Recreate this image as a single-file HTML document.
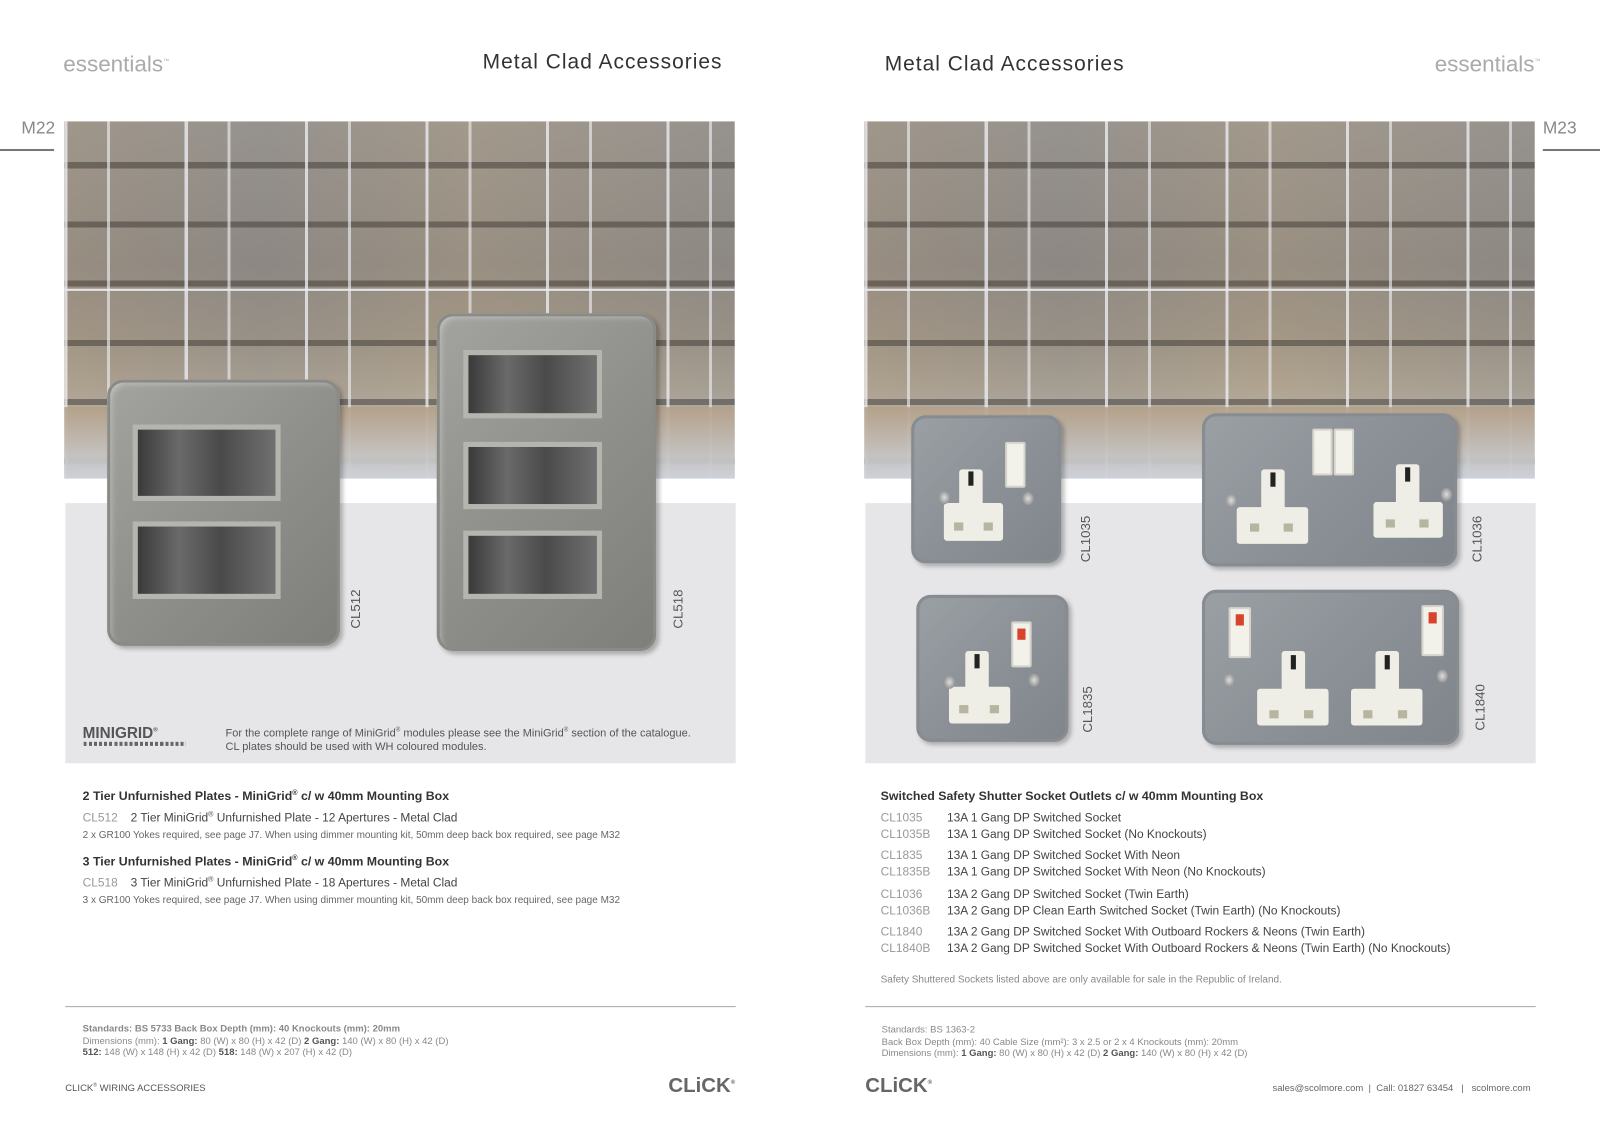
<!DOCTYPE html>
<html><head><meta charset="utf-8">
<style>
*{margin:0;padding:0;box-sizing:border-box}
body{width:1600px;height:1135px;background:#fff;position:relative;font-family:"Liberation Sans",sans-serif;overflow:hidden;color:#333}
#w{position:absolute;left:0;top:0;width:1568px;height:1112px;transform:scale(1.02041);transform-origin:0 0}
.a{position:absolute}
.photo{position:absolute;top:119px;width:657px;height:350px;overflow:hidden;
background:
repeating-linear-gradient(90deg,rgba(235,235,240,.8) 0 3px,transparent 3px 42px,rgba(235,235,240,.65) 42px 45px,transparent 45px 118px),
repeating-linear-gradient(180deg,transparent 0 40px,rgba(60,55,50,.5) 40px 46px,transparent 46px 58px),
linear-gradient(90deg,rgba(160,140,115,.25),rgba(110,115,125,.2) 30%,rgba(170,150,120,.25) 60%,rgba(110,115,125,.2)),
linear-gradient(180deg,#a09a92 0%,#948d85 40%,#a3998a 62%,#b3a999 75%,#c3c6cc 90%,#cfd3d9 100%);}
.photo .floor{position:absolute;left:0;right:0;bottom:0;height:70px;background:linear-gradient(180deg,rgba(180,160,135,.9),rgba(205,210,218,.95))}
.photo .hl{position:absolute;left:0;right:0;top:164px;height:2px;background:#e8e8ea}
.gray{position:absolute;top:493px;width:657px;height:255px;background:#e6e6e8}
.metal{position:absolute;background:linear-gradient(135deg,#a3a39f,#8f8f8b 50%,#7e7e7a);border-radius:16px;box-shadow:inset 0 0 0 3px #8a8a86,inset 4px 4px 6px rgba(255,255,255,.35),3px 3px 4px rgba(0,0,0,.25)}
.ap{position:absolute;background:linear-gradient(90deg,#3a3a3a,#6a6a6a 30%,#4a4a4a 60%,#707070);border:5px solid #b6b4ae}
.smetal{position:absolute;background:linear-gradient(135deg,#9aa0a4,#8b9196 50%,#7f858a);border-radius:14px;box-shadow:inset 0 0 0 3px #868c91,3px 3px 4px rgba(0,0,0,.25)}
.wu{position:absolute;background:#efeee6;border-radius:3px}
.pin{position:absolute;background:#222;width:5px;height:14px}
.sq{position:absolute;background:#b7b49f;width:9px;height:8px}
.sw{position:absolute;background:#f2f1ea;border:2px solid #d5d4cc;border-radius:2px}
.neon{position:absolute;background:#d8432c;width:8px;height:11px}
.scr{position:absolute;width:11px;height:13px;border-radius:50%;background:radial-gradient(#ddd,#777)}
.lbl{position:absolute;font-size:13px;color:#555;transform:rotate(-90deg);transform-origin:left top;white-space:nowrap}
.h{font-size:12.1px;font-weight:bold;color:#333}
.row{font-size:11.7px;color:#444;position:absolute;white-space:nowrap}
.row span{color:#999;display:inline-block}
.small{font-size:9.8px;color:#666;position:absolute;white-space:nowrap}
.std{font-size:9.3px;color:#888;line-height:11.5px;position:absolute;white-space:nowrap}
.std b{color:#555}
</style></head><body><div id="w">

<div class="a" style="left:62px;top:50px;font-size:22px;color:#aaa;font-weight:300">essentials<sup style="font-size:6px">™</sup></div>
<div class="a" style="left:473px;top:49px;font-size:20.5px;color:#333;letter-spacing:1px">Metal Clad Accessories</div>
<div class="a" style="left:867px;top:51px;font-size:20.5px;color:#333;letter-spacing:1px">Metal Clad Accessories</div>
<div class="a" style="left:1406px;top:50px;font-size:22px;color:#aaa;font-weight:300">essentials<sup style="font-size:6px">™</sup></div>
<div class="a" style="left:21px;top:116px;font-size:17px;color:#888">M22</div>
<div class="a" style="left:0;top:146px;width:53px;height:2px;background:#777"></div>
<div class="a" style="left:1512px;top:116px;font-size:17px;color:#888">M23</div>
<div class="a" style="left:1512px;top:146px;width:88px;height:2px;background:#777"></div>

<div class="photo" style="left:63px"><div class="hl"></div><div class="floor"></div></div>
<div class="gray" style="left:64px"></div>

<div class="metal" style="left:105px;top:372px;width:228px;height:261px"></div>
<div class="ap" style="left:130px;top:416px;width:145px;height:75px"></div>
<div class="ap" style="left:130px;top:511px;width:145px;height:76px"></div>
<div class="metal" style="left:428px;top:307px;width:215px;height:331px"></div>
<div class="ap" style="left:454px;top:343px;width:136px;height:67px"></div>
<div class="ap" style="left:454px;top:433px;width:136px;height:66px"></div>
<div class="ap" style="left:454px;top:520px;width:136px;height:67px"></div>
<div class="lbl" style="left:341px;top:616px">CL512</div>
<div class="lbl" style="left:657px;top:616px">CL518</div>

<div class="a" style="left:81px;top:710px;font-size:15px;font-weight:bold;color:#555">MINIGRID<sup style="font-size:6px">®</sup></div>
<div class="a" style="left:82px;top:727px;width:100px;height:4px;background:repeating-linear-gradient(90deg,#666 0 3px,transparent 3px 5px)"></div>
<div class="a" style="left:221px;top:710px;font-size:10.8px;color:#555;line-height:13.5px">For the complete range of MiniGrid<sup style="font-size:6px">®</sup> modules please see the MiniGrid<sup style="font-size:6px">®</sup> section of the catalogue.<br>CL plates should be used with WH coloured modules.</div>

<div class="photo" style="left:847px"><div class="hl"></div><div class="floor"></div></div>
<div class="gray" style="left:848px"></div>

<div class="smetal" style="left:893px;top:407px;width:147px;height:145px"></div>
<div class="wu" style="left:940px;top:460px;width:23px;height:36px"></div>
<div class="wu" style="left:925px;top:493px;width:58px;height:37px"></div>
<div class="pin" style="left:949px;top:462px"></div>
<div class="sq" style="left:935px;top:512px"></div><div class="sq" style="left:964px;top:512px"></div>
<div class="sw" style="left:985px;top:433px;width:20px;height:45px"></div>
<div class="scr" style="left:920px;top:481px"></div><div class="scr" style="left:1002px;top:482px"></div>
<div class="lbl" style="left:1056px;top:551px">CL1035</div>

<div class="smetal" style="left:1178px;top:405px;width:250px;height:150px"></div>
<div class="wu" style="left:1236px;top:460px;width:23px;height:40px"></div>
<div class="wu" style="left:1212px;top:497px;width:70px;height:36px"></div>
<div class="pin" style="left:1245px;top:463px"></div>
<div class="sq" style="left:1225px;top:513px"></div><div class="sq" style="left:1258px;top:513px"></div>
<div class="wu" style="left:1368px;top:455px;width:23px;height:40px"></div>
<div class="wu" style="left:1346px;top:492px;width:68px;height:35px"></div>
<div class="pin" style="left:1377px;top:458px"></div>
<div class="sq" style="left:1358px;top:509px"></div><div class="sq" style="left:1391px;top:509px"></div>
<div class="sw" style="left:1286px;top:420px;width:20px;height:46px"></div>
<div class="sw" style="left:1307px;top:420px;width:20px;height:46px"></div>
<div class="scr" style="left:1201px;top:484px"></div><div class="scr" style="left:1412px;top:478px"></div>
<div class="lbl" style="left:1440px;top:551px">CL1036</div>

<div class="smetal" style="left:898px;top:583px;width:149px;height:144px"></div>
<div class="wu" style="left:946px;top:638px;width:23px;height:38px"></div>
<div class="wu" style="left:930px;top:673px;width:60px;height:36px"></div>
<div class="pin" style="left:955px;top:641px"></div>
<div class="sq" style="left:940px;top:691px"></div><div class="sq" style="left:970px;top:691px"></div>
<div class="sw" style="left:991px;top:609px;width:20px;height:45px"></div>
<div class="neon" style="left:997px;top:616px"></div>
<div class="scr" style="left:925px;top:662px"></div><div class="scr" style="left:1008px;top:660px"></div>
<div class="lbl" style="left:1058px;top:718px">CL1835</div>

<div class="smetal" style="left:1178px;top:578px;width:252px;height:152px"></div>
<div class="sw" style="left:1204px;top:595px;width:22px;height:50px"></div>
<div class="neon" style="left:1211px;top:602px"></div>
<div class="sw" style="left:1393px;top:593px;width:22px;height:50px"></div>
<div class="neon" style="left:1400px;top:600px"></div>
<div class="wu" style="left:1256px;top:638px;width:23px;height:40px"></div>
<div class="wu" style="left:1232px;top:675px;width:70px;height:36px"></div>
<div class="pin" style="left:1265px;top:642px"></div>
<div class="sq" style="left:1244px;top:696px"></div><div class="sq" style="left:1278px;top:696px"></div>
<div class="wu" style="left:1348px;top:638px;width:23px;height:40px"></div>
<div class="wu" style="left:1324px;top:675px;width:70px;height:36px"></div>
<div class="pin" style="left:1357px;top:642px"></div>
<div class="sq" style="left:1336px;top:696px"></div><div class="sq" style="left:1370px;top:696px"></div>
<div class="scr" style="left:1199px;top:660px"></div><div class="scr" style="left:1408px;top:656px"></div>
<div class="lbl" style="left:1443px;top:716px">CL1840</div>

<div class="a h" style="left:81px;top:773px">2 Tier Unfurnished Plates - MiniGrid<sup style="font-size:7px">®</sup> c/ w 40mm Mounting Box</div>
<div class="row" style="left:81px;top:795px"><span style="width:47px">CL512</span>2 Tier MiniGrid<sup style="font-size:7px">®</sup> Unfurnished Plate - 12 Apertures - Metal Clad</div>
<div class="small" style="left:81px;top:813px">2 x GR100 Yokes required, see page J7. When using dimmer mounting kit, 50mm deep back box required, see page M32</div>
<div class="a h" style="left:81px;top:837px">3 Tier Unfurnished Plates - MiniGrid<sup style="font-size:7px">®</sup> c/ w 40mm Mounting Box</div>
<div class="row" style="left:81px;top:859px"><span style="width:47px">CL518</span>3 Tier MiniGrid<sup style="font-size:7px">®</sup> Unfurnished Plate - 18 Apertures - Metal Clad</div>
<div class="small" style="left:81px;top:877px">3 x GR100 Yokes required, see page J7. When using dimmer mounting kit, 50mm deep back box required, see page M32</div>

<div class="a h" style="left:863px;top:773px">Switched Safety Shutter Socket Outlets c/ w 40mm Mounting Box</div>
<div class="row" style="left:863px;top:795px"><span style="width:65px">CL1035</span>13A 1 Gang DP Switched Socket</div>
<div class="row" style="left:863px;top:811px"><span style="width:65px">CL1035B</span>13A 1 Gang DP Switched Socket (No Knockouts)</div>
<div class="row" style="left:863px;top:832px"><span style="width:65px">CL1835</span>13A 1 Gang DP Switched Socket With Neon</div>
<div class="row" style="left:863px;top:848px"><span style="width:65px">CL1835B</span>13A 1 Gang DP Switched Socket With Neon (No Knockouts)</div>
<div class="row" style="left:863px;top:870px"><span style="width:65px">CL1036</span>13A 2 Gang DP Switched Socket (Twin Earth)</div>
<div class="row" style="left:863px;top:886px"><span style="width:65px">CL1036B</span>13A 2 Gang DP Clean Earth Switched Socket (Twin Earth) (No Knockouts)</div>
<div class="row" style="left:863px;top:907px"><span style="width:65px">CL1840</span>13A 2 Gang DP Switched Socket With Outboard Rockers &amp; Neons (Twin Earth)</div>
<div class="row" style="left:863px;top:923px"><span style="width:65px">CL1840B</span>13A 2 Gang DP Switched Socket With Outboard Rockers &amp; Neons (Twin Earth) (No Knockouts)</div>
<div class="small" style="left:863px;top:955px;color:#888">Safety Shuttered Sockets listed above are only available for sale in the Republic of Ireland.</div>

<div class="a" style="left:64px;top:986px;width:657px;height:1px;background:#aaa"></div>
<div class="a" style="left:848px;top:986px;width:657px;height:1px;background:#aaa"></div>

<div class="std" style="left:81px;top:1003px"><b style="color:#888">Standards: BS 5733 Back Box Depth (mm): 40 Knockouts (mm): 20mm</b><br>Dimensions (mm): <b>1 Gang:</b> 80 (W) x 80 (H) x 42 (D) <b>2 Gang:</b> 140 (W) x 80 (H) x 42 (D)<br><b>512:</b> 148 (W) x 148 (H) x 42 (D) <b>518:</b> 148 (W) x 207 (H) x 42 (D)</div>
<div class="std" style="left:864px;top:1004px">Standards: BS 1363-2<br>Back Box Depth (mm): 40 Cable Size (mm²): 3 x 2.5 or 2 x 4 Knockouts (mm): 20mm<br>Dimensions (mm): <b>1 Gang:</b> 80 (W) x 80 (H) x 42 (D) <b>2 Gang:</b> 140 (W) x 80 (H) x 42 (D)</div>

<div class="a" style="left:64px;top:1061px;font-size:9.3px;color:#555">CLICK<sup style="font-size:5px">®</sup> WIRING ACCESSORIES</div>
<div class="a" style="left:655px;top:1053px;font-size:20px;font-weight:bold;color:#666">CLiCK<sup style="font-size:6px">®</sup></div>
<div class="a" style="left:848px;top:1053px;font-size:20px;font-weight:bold;color:#666">CLiCK<sup style="font-size:6px">®</sup></div>
<div class="a" style="left:1247px;top:1061px;font-size:9.3px;color:#666;white-space:nowrap">sales@scolmore.com &nbsp;| &nbsp;Call: 01827 63454 &nbsp; | &nbsp; scolmore.com</div>
</div></body></html>
